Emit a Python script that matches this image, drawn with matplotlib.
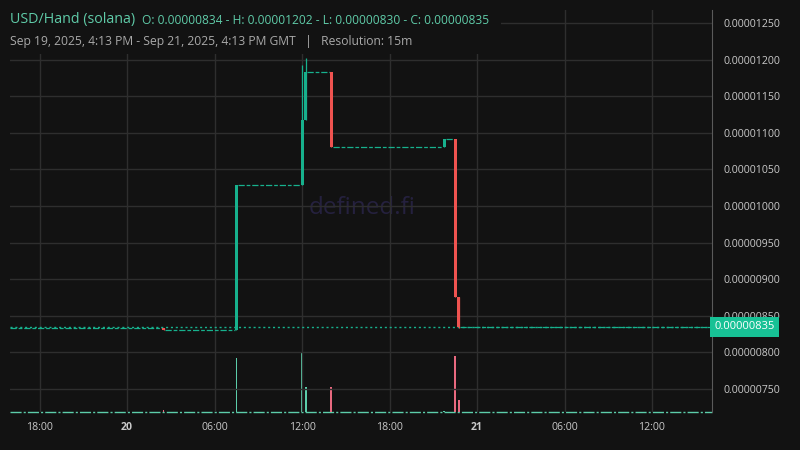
import matplotlib
matplotlib.use("Agg")
import matplotlib.pyplot as plt
import matplotlib.dates as mdates
from matplotlib.patches import Rectangle
from matplotlib.ticker import FuncFormatter, MultipleLocator
import pandas as pd

# ---------------- data (15m candles that traded, GMT) ----------------
candle_times = ["2025-09-20 02:30", "2025-09-20 07:30", "2025-09-20 12:00", "2025-09-20 12:15",
                "2025-09-20 14:00", "2025-09-20 21:45", "2025-09-20 22:30", "2025-09-20 22:45"]
opens  = [8.34, 8.30, 10.29, 11.17, 11.83, 10.80, 10.91, 8.76]
highs  = [8.34, 10.29, 11.92, 12.02, 11.83, 10.91, 10.91, 8.76]
lows   = [8.30, 8.30, 10.29, 11.17, 10.80, 10.80, 8.76, 8.34]
closes = [8.30, 10.29, 11.17, 11.83, 10.80, 10.91, 8.76, 8.35]
volumes = [45, 1180, 1320, 540, 540, 12, 1230, 270]
start_price = 8.34          # price level before the first trade
price_unit = 1e-6
range_start = "2025-09-19 15:58"
range_end = "2025-09-21 16:07"

title_main = "USD/Hand (solana)"
title_ohlc = "O: 0.00000834 - H: 0.00001202 - L: 0.00000830 - C: 0.00000835"
subtitle = "Sep 19, 2025, 4:13 PM - Sep 21, 2025, 4:13 PM GMT   |   Resolution: 15m"
watermark = "defined.fi"

# ---------------- style ----------------
BG = "#121212"
GRID = "#2e2e2e"
UP = "#17b18d"
DOWN = "#ef5350"
VOL_UP = "#5ccdaa"
VOL_DOWN = "#e8697f"
TXT = "#c9c9c9"
TEAL_TXT = "#5fcba8"
FONT = ["Open Sans", "DejaVu Sans"]
plt.rcParams["font.family"] = FONT

t = pd.to_datetime(candle_times)
tn = mdates.date2num(t.to_pydatetime())
o = [v * price_unit for v in opens]
h = [v * price_unit for v in highs]
l = [v * price_unit for v in lows]
c = [v * price_unit for v in closes]
x0 = mdates.date2num(pd.Timestamp(range_start).to_pydatetime())
x1 = mdates.date2num(pd.Timestamp(range_end).to_pydatetime())
bar_dt = 15 / 1440.0

fig = plt.figure(figsize=(8, 4.5), dpi=100, facecolor=BG)
ax = fig.add_axes([10 / 800, 38 / 450, 702 / 800, 402 / 450])
vol = ax.twinx()
vol.set_zorder(0)
ax.set_zorder(1)
ax.patch.set_visible(False)
vol.patch.set_facecolor(BG)
vol.patch.set_visible(True)

# grid
ax.set_xlim(x0, x1)
ax.set_ylim(7.186e-6, 12.678e-6)
ax.yaxis.set_major_locator(MultipleLocator(0.5e-6))
ax.yaxis.set_major_formatter(FuncFormatter(lambda v, p: f"{v:.8f}"))
ax.xaxis.set_major_locator(mdates.HourLocator(byhour=[0, 6, 12, 18]))

def xfmt(v, pos):
    d = mdates.num2date(v)
    if d.hour == 0:
        return f"{d.day}"
    return d.strftime("%H:%M")
ax.xaxis.set_major_formatter(FuncFormatter(xfmt))
vol.grid(False)
ax.grid(True, color=GRID, linewidth=1)
ax.set_axisbelow(True)
ax.yaxis.tick_right()
ax.tick_params(axis="y", which="both", length=0, pad=8, labelsize=7.6, colors=TXT,
               left=False, labelleft=False, right=False, labelright=True)
ax.tick_params(axis="x", length=0, pad=7, labelsize=7.6, colors=TXT)
for s in ["top", "left", "bottom"]:
    ax.spines[s].set_visible(False)
    vol.spines[s].set_visible(False)
ax.spines["right"].set_color("#5a5a5a")
vol.spines["right"].set_visible(False)
vol.set_yticks([])
vol.set_ylim(0, max(volumes) / 0.149)

# watermark (below grid)
vol.text(0.502, 0.508, watermark, transform=vol.transAxes, ha="center", va="center",
         fontsize=17.5, color="#25213f", zorder=0.1)

# flat (no-trade) periods as dashed level lines
levels_start = [x0] + list(tn + bar_dt * 0.45)
levels_end = list(tn - bar_dt * 0.45) + [x1]
levels = [start_price * price_unit] + c
for xs, xe, lv in zip(levels_start, levels_end, levels):
    if xe > xs:
        ax.hlines(lv, xs, xe, colors=UP, linewidth=0.9, linestyles=(0, (5, 1.5, 3, 1.5)), zorder=3)

# current price dotted line
ax.axhline(c[-1], color=UP, linewidth=1, linestyle=(0, (1.5, 2)), zorder=2)

# candles
for xi, oi, hi, li, ci in zip(tn, o, h, l, c):
    col = UP if ci >= oi else DOWN
    ax.vlines(xi, li, hi, colors=col, linewidth=0.9, zorder=4)
    ax.bar(xi, max(abs(ci - oi), 0.02e-6), bottom=min(oi, ci), width=bar_dt * 0.85,
           color=col, linewidth=0, zorder=5)

# volumes
vcols = [VOL_UP if ci >= oi else VOL_DOWN for oi, ci in zip(o, c)]
vol.bar(tn, volumes, width=bar_dt * 0.5, color=vcols, linewidth=0, zorder=3)
vol.axhline(max(volumes) * 0.004, color=VOL_UP, linewidth=1.0,
            linestyle=(0, (8, 1.5, 1.5, 1.5)), clip_on=False, zorder=2)

# price label box
ax.text(1.003, c[-1], f"{c[-1]:.8f}", transform=ax.get_yaxis_transform(), ha="left", va="center",
        fontsize=8.0, color="white", zorder=10, clip_on=False,
        bbox=dict(boxstyle="square,pad=0.4", facecolor="#17c195", edgecolor="none"))

fig.canvas.draw()
for lab in ax.get_xticklabels():
    if ":" not in lab.get_text():
        lab.set_fontweight("bold")

# title box
fig.patches.append(Rectangle((0, 1 - 54 / 450), 501 / 800, 54 / 450, transform=fig.transFigure,
                             facecolor=BG, edgecolor="none", zorder=2))
fig.text(10 / 800, 1 - 20 / 450, title_main, ha="left", va="center", fontsize=10.3,
         color=TEAL_TXT, zorder=3)
fig.text(142 / 800, 1 - 20 / 450, title_ohlc, ha="left", va="center", fontsize=8.65,
         color=TEAL_TXT, zorder=3)
fig.text(10 / 800, 1 - 41 / 450, subtitle, ha="left", va="center", fontsize=8.7,
         color="#a9a9a9", zorder=3)

fig.savefig("out.png", dpi=100, facecolor=BG)
